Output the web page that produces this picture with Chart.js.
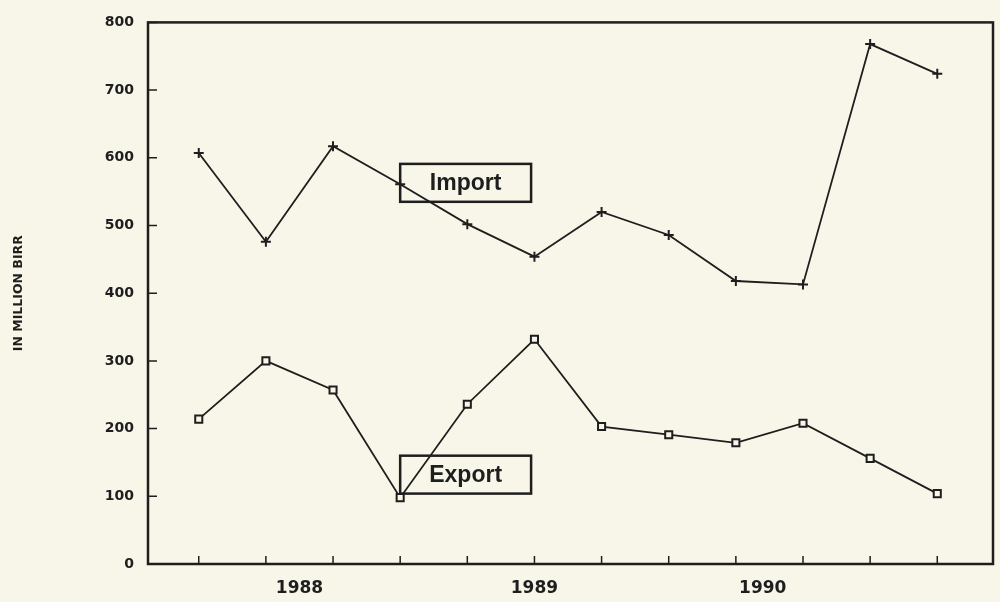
<!DOCTYPE html>
<html>
<head>
<meta charset="utf-8">
<script src="https://cdn.jsdelivr.net/npm/chart.js@4/dist/chart.umd.min.js"></script>
<style>
  html, body { margin: 0; padding: 0; background: #f8f6e8; }
  #wrap { width: 1000px; height: 602px; }
</style>
</head>
<body>
<div id="wrap"><canvas id="trade-chart" width="1000" height="602"></canvas></div>
<script>
// quarterly data, million Birr
const quarters = [1, 2, 3, 4, 5, 6, 7, 8, 9, 10, 11, 12];
const imports = [607, 476, 617, 561, 502, 454, 520, 486, 418, 413, 768, 724];
const exports = [214, 300, 257, 98, 236, 332, 203, 191, 179, 208, 156, 104];
const yearLabels = ['1988', '1989', '1990'];
const yearPositions = [2.5, 6, 9.4];

const ink = '#1e1e1e';
const paper = '#f8f6e8';

// labelled boxes, placed in data units
const callouts = [
    { text: 'Import', x0: 4, x1: 5.95, y0: 591, y1: 535 },
    { text: 'Export', x0: 4, x1: 5.95, y0: 160, y1: 104 }
];

const framePlugin = {
    id: 'frame',
    beforeDatasetsDraw(chart) {
        const { ctx, chartArea: a, scales: { x, y } } = chart;
        ctx.save();
        ctx.strokeStyle = ink;
        ctx.lineWidth = 2.5;
        ctx.strokeRect(a.left, a.top, a.right - a.left, a.bottom - a.top);
        // inward tick marks
        ctx.lineWidth = 1.5;
        ctx.beginPath();
        quarters.forEach(q => {
            const px = x.getPixelForValue(q);
            ctx.moveTo(px, a.bottom);
            ctx.lineTo(px, a.bottom - 8);
        });
        y.ticks.forEach(t => {
            if (t.value === 0) return;
            const py = y.getPixelForValue(t.value);
            ctx.moveTo(a.left, py);
            ctx.lineTo(a.left + 9, py);
        });
        ctx.stroke();
        ctx.restore();
    },
    afterDatasetsDraw(chart) {
        const { ctx, scales: { x, y } } = chart;
        ctx.save();
        ctx.strokeStyle = ink;
        ctx.lineWidth = 2.5;
        ctx.fillStyle = ink;
        ctx.font = 'bold 23px "Liberation Sans", Arial, sans-serif';
        ctx.textAlign = 'center';
        ctx.textBaseline = 'middle';
        callouts.forEach(c => {
            const left = x.getPixelForValue(c.x0);
            const right = x.getPixelForValue(c.x1);
            const top = y.getPixelForValue(c.y0);
            const bottom = y.getPixelForValue(c.y1);
            ctx.strokeRect(left, top, right - left, bottom - top);
            ctx.fillText(c.text, (left + right) / 2, (top + bottom) / 2 + 1);
        });
        ctx.restore();
    }
};

new Chart(document.getElementById('trade-chart'), {
    type: 'line',
    data: {
        datasets: [
            {
                label: 'Import',
                data: quarters.map((q, i) => ({ x: q, y: imports[i] })),
                borderColor: ink,
                borderWidth: 1.8,
                pointStyle: 'cross',
                pointRadius: 5,
                pointBorderWidth: 2,
                pointBorderColor: ink,
                tension: 0
            },
            {
                label: 'Export',
                data: quarters.map((q, i) => ({ x: q, y: exports[i] })),
                borderColor: ink,
                borderWidth: 1.8,
                pointStyle: 'rect',
                pointRadius: 5,
                pointBorderWidth: 2,
                pointBorderColor: ink,
                pointBackgroundColor: paper,
                tension: 0
            }
        ]
    },
    options: {
        responsive: false,
        animation: false,
        layout: { padding: { top: 19, right: 3, left: 0, bottom: 0 } },
        plugins: {
            legend: { display: false },
            tooltip: { enabled: false }
        },
        scales: {
            x: {
                type: 'linear',
                min: 0.244,
                max: 12.83,
                grid: { display: false },
                border: { display: false },
                afterBuildTicks: scale => {
                    scale.ticks = yearPositions.map(v => ({ value: v }));
                },
                afterFit: scale => { scale.height = 38; },
                ticks: {
                    autoSkip: false,
                    maxRotation: 0,
                    padding: 6,
                    color: ink,
                    font: { family: '"DejaVu Sans", sans-serif', size: 17, weight: 'bold' },
                    callback: (value, index) => yearLabels[index]
                }
            },
            y: {
                min: 0,
                max: 800,
                grid: { display: false, drawTicks: false },
                border: { display: false },
                afterFit: scale => { scale.width = 148; },
                ticks: {
                    stepSize: 100,
                    padding: 14,
                    color: ink,
                    font: { family: '"DejaVu Sans", sans-serif', size: 14, weight: 'bold' }
                },
                title: {
                    display: true,
                    text: 'IN MILLION BIRR',
                    color: ink,
                    padding: { top: 11, bottom: 0 },
                    font: { family: '"DejaVu Sans", sans-serif', size: 12.5, weight: 'bold' }
                }
            }
        }
    },
    plugins: [framePlugin]
});
</script>
</body>
</html>
